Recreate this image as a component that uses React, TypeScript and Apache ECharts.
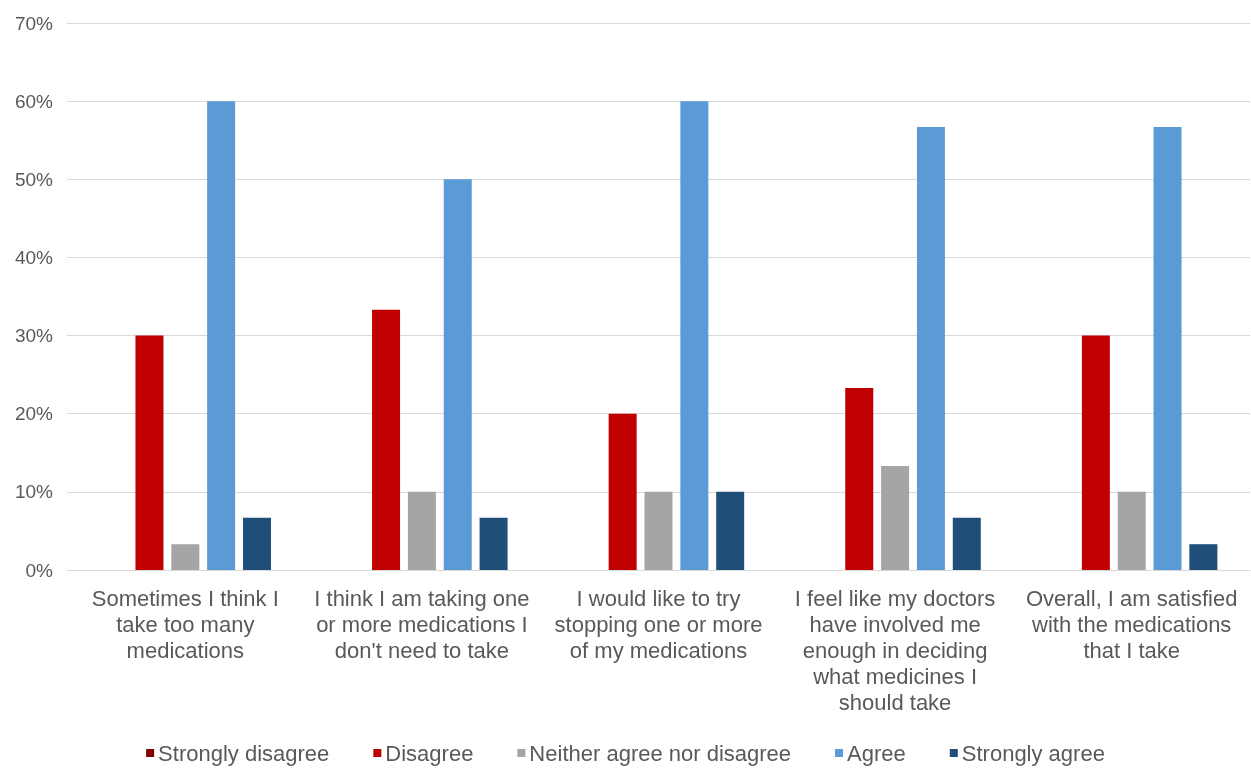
import React, { useEffect, useRef } from "react";
import * as echarts from "echarts";

const categories = [
  "Sometimes I think I\ntake too many\nmedications",
  "I think I am taking one\nor more medications I\ndon't need to take",
  "I would like to try\nstopping one or more\nof my medications",
  "I feel like my doctors\nhave involved me\nenough in deciding\nwhat medicines I\nshould take",
  "Overall, I am satisfied\nwith the medications\nthat I take",
];
const seriesNames = ["Strongly disagree", "Disagree", "Neither agree nor disagree", "Agree", "Strongly agree"];
const stronglyDisagree = [0, 0, 0, 0, 0];
const disagree = [30, 33.3, 20, 23.3, 30];
const neither = [3.3, 10, 10, 13.3, 10];
const agree = [60, 50, 60, 56.7, 56.7];
const stronglyAgree = [6.7, 6.7, 10, 6.7, 3.3];
const colors = ["#7F0000", "#C00000", "#A5A5A5", "#5B9BD5", "#1F4E79"];

export default function App() {
  const ref = useRef<HTMLDivElement>(null);
  useEffect(() => {
    const chart = echarts.init(ref.current!, null, { renderer: "svg" });
    const data = [stronglyDisagree, disagree, neither, agree, stronglyAgree];
    chart.setOption({
      animation: false,
      textStyle: { fontFamily: "Liberation Sans, Arial, sans-serif" },
      grid: { left: 67, right: 1, top: 23, bottom: 199 },
      legend: {
        top: 737,
        left: "center",
        itemWidth: 8,
        itemHeight: 8,
        itemGap: 44,
        icon: "rect",
        textStyle: { fontSize: 22, color: "#595959", padding: [0, 0, 0, -1] },
        data: seriesNames,
      },
      xAxis: {
        type: "category",
        data: categories,
        axisLine: { lineStyle: { color: "#D9D9D9" } },
        axisTick: { show: false },
        axisLabel: { fontSize: 22, color: "#595959", lineHeight: 26, interval: 0, margin: 15 },
      },
      yAxis: {
        type: "value",
        min: 0,
        max: 70,
        interval: 10,
        axisLine: { show: false },
        axisTick: { show: false },
        splitLine: { lineStyle: { color: "#D9D9D9" } },
        axisLabel: { fontSize: 19, color: "#595959", formatter: "{value}%", margin: 14 },
      },
      series: seriesNames.map((name, i) => ({
        name,
        type: "bar",
        data: data[i],
        barWidth: 28,
        barGap: "28%",
        itemStyle: { color: colors[i] },
      })),
    });
    return () => chart.dispose();
  }, []);
  return <div ref={ref} style={{ position: "fixed", left: 0, top: 0, width: 1251, height: 769 }} />;
}
